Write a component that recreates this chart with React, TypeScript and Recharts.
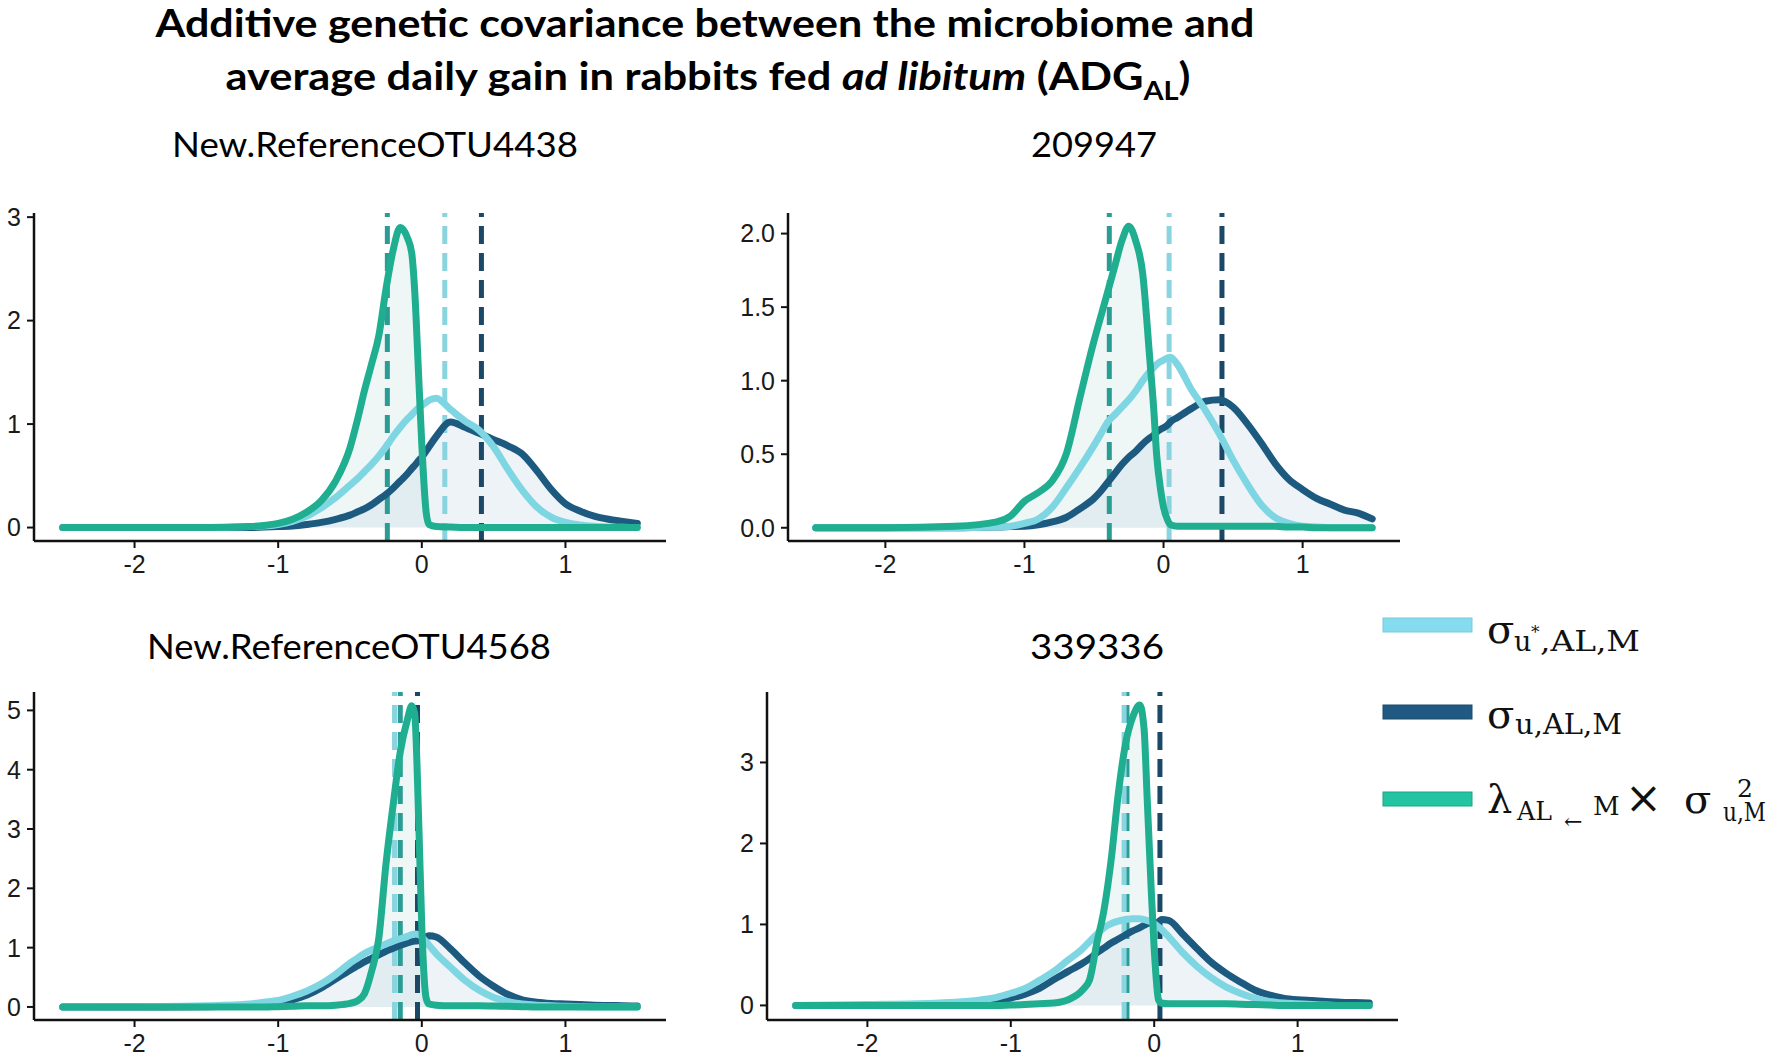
import { Area, ComposedChart, Line, ReferenceLine, XAxis, YAxis } from 'recharts'

// shared density grid (x values)
const X_GRID = [
  -2.5, -2.0, -1.5, -1.2, -1.1, -1.0, -0.9, -0.8, -0.7, -0.6, -0.5, -0.45, -0.4, -0.35, -0.3, -0.25, -0.2, -0.15, -0.1, -0.07,
  -0.05, -0.02, 0, 0.03, 0.05, 0.1, 0.2, 0.3, 0.4, 0.5, 0.6, 0.7, 0.8, 0.9, 1.0, 1.1, 1.2, 1.3, 1.4, 1.5,
]
const X_TICKS = [-2, -1, 0, 1]

// New.ReferenceOTU4438
const P1_LIGHT = [
  0, 0, 0, 0.01, 0.015, 0.03, 0.06, 0.11, 0.19, 0.29, 0.41, 0.47, 0.54, 0.61, 0.69, 0.78, 0.88, 0.97, 1.05, 1.09,
  1.12, 1.16, 1.18, 1.21, 1.23, 1.25, 1.14, 1.03, 0.94, 0.78, 0.56, 0.36, 0.2, 0.1, 0.05, 0.025, 0.012, 0.006, 0.003, 0,
]
const P1_DARK = [
  0, 0, 0, 0, 0.005, 0.01, 0.015, 0.03, 0.05, 0.08, 0.12, 0.15, 0.18, 0.22, 0.27, 0.32, 0.38, 0.45, 0.52, 0.57,
  0.6, 0.65, 0.68, 0.74, 0.78, 0.88, 1.02, 0.97, 0.91, 0.85, 0.79, 0.71, 0.55, 0.37, 0.23, 0.16, 0.11, 0.08, 0.06, 0.04,
]
const P1_GREEN = [
  0, 0, 0, 0.01, 0.02, 0.04, 0.08, 0.15, 0.26, 0.45, 0.77, 1.03, 1.32, 1.58, 1.85, 2.3, 2.68, 2.9, 2.8, 2.65,
  2.3, 1.4, 0.8, 0.15, 0.03, 0.01, 0.005, 0, 0, 0, 0, 0, 0, 0, 0, 0, 0, 0, 0, 0,
]
const P1_MEANS = { green: -0.24, light: 0.16, dark: 0.415 }

// 209947
const P2_LIGHT = [
  0, 0, 0, 0.005, 0.01, 0.03, 0.06, 0.14, 0.27, 0.41, 0.56, 0.64, 0.72, 0.77, 0.82, 0.87, 0.93, 1.0, 1.06, 1.09,
  1.11, 1.13, 1.14, 1.155, 1.16, 1.11, 0.94, 0.8, 0.64, 0.46, 0.3, 0.16, 0.07, 0.03, 0.01, 0.005, 0, 0, 0, 0,
]
const P2_DARK = [
  0, 0, 0, 0.005, 0.008, 0.01, 0.02, 0.04, 0.07, 0.13, 0.2, 0.25, 0.31, 0.37, 0.43, 0.48, 0.52, 0.57, 0.61, 0.63,
  0.65, 0.67, 0.68, 0.7, 0.72, 0.75, 0.81, 0.86, 0.87, 0.82, 0.71, 0.58, 0.44, 0.33, 0.26, 0.2, 0.16, 0.12, 0.1, 0.06,
]
const P2_GREEN = [
  0, 0, 0.01, 0.04, 0.08, 0.18, 0.24, 0.32, 0.5, 0.89, 1.27, 1.44, 1.61, 1.78, 1.95, 2.05, 1.95, 1.73, 1.16, 0.8,
  0.5, 0.25, 0.14, 0.05, 0.02, 0.01, 0.01, 0.01, 0.01, 0.01, 0.01, 0.01, 0.01, 0.005, 0.005, 0, 0, 0, 0, 0,
]
const P2_MEANS = { green: -0.39, light: 0.04, dark: 0.42 }

// New.ReferenceOTU4568
const P3_LIGHT = [
  0, 0.005, 0.02, 0.05, 0.08, 0.11, 0.18, 0.27, 0.39, 0.55, 0.74, 0.82, 0.9, 0.96, 1.01, 1.06, 1.11, 1.15, 1.19, 1.22,
  1.23, 1.22, 1.18, 1.1, 1.04, 0.9, 0.67, 0.45, 0.28, 0.16, 0.09, 0.05, 0.03, 0.02, 0.01, 0.005, 0, 0, 0, 0,
]
const P3_DARK = [
  0, 0, 0.005, 0.02, 0.04, 0.06, 0.12, 0.2, 0.32, 0.47, 0.62, 0.69, 0.76, 0.82, 0.88, 0.94, 0.99, 1.04, 1.08, 1.1,
  1.11, 1.12, 1.14, 1.18, 1.2, 1.18, 0.98, 0.74, 0.52, 0.35, 0.21, 0.12, 0.08, 0.06, 0.05, 0.04, 0.03, 0.025, 0.02, 0.015,
]
const P3_GREEN = [
  0, 0, 0, 0, 0, 0.005, 0.01, 0.02, 0.02, 0.03, 0.06, 0.1, 0.22, 0.6, 1.15, 2.4, 3.4, 4.3, 4.85, 5.08,
  4.95, 3.0, 1.35, 0.15, 0.05, 0.03, 0.02, 0.02, 0.02, 0.015, 0.01, 0.005, 0, 0, 0, 0, 0, 0, 0, 0,
]
const P3_MEANS = { green: -0.15, light: -0.19, dark: -0.03 }

// 339336
const P4_LIGHT = [
  0, 0.01, 0.03, 0.07, 0.1, 0.15, 0.21, 0.31, 0.42, 0.56, 0.7, 0.79, 0.88, 0.96, 1.01, 1.04, 1.06, 1.07, 1.07, 1.06,
  1.05, 1.03, 1.01, 0.97, 0.94, 0.85, 0.65, 0.48, 0.34, 0.23, 0.15, 0.09, 0.05, 0.03, 0.02, 0.01, 0.005, 0, 0, 0,
]
const P4_DARK = [
  0, 0, 0.005, 0.02, 0.05, 0.09, 0.14, 0.21, 0.32, 0.42, 0.52, 0.58, 0.65, 0.71, 0.77, 0.82, 0.87, 0.92, 0.96, 0.99,
  1.01, 1.02, 1.01, 1.03, 1.06, 1.05, 0.88, 0.7, 0.53, 0.4, 0.29, 0.19, 0.13, 0.09, 0.07, 0.06, 0.05, 0.04, 0.035, 0.03,
]
const P4_GREEN = [
  0, 0, 0, 0, 0, 0.005, 0.01, 0.02, 0.03, 0.07, 0.19, 0.32, 0.77, 1.18, 1.8, 2.62, 3.23, 3.56, 3.71, 3.4,
  2.6, 1.4, 0.7, 0.07, 0.03, 0.02, 0.02, 0.02, 0.02, 0.02, 0.015, 0.01, 0.005, 0, 0, 0, 0, 0, 0, 0,
]
const P4_MEANS = { green: -0.19, light: -0.21, dark: 0.04 }

const LIGHT = '#7fd6e3'
const DARK = '#1d5a80'
const GREEN = '#1fae90'

const rows = (light: number[], dark: number[], green: number[]) =>
  X_GRID.map((x, i) => ({ x, light: light[i], dark: dark[i], green: green[i] }))

const tickFont = { fontSize: 25, fontFamily: 'Liberation Sans, Arial, sans-serif', fill: '#1a1a1a' }

type PanelProps = {
  rect: [number, number, number, number]
  yDomain: [number, number]
  yTicks: number[]
  digits: number
  data: Array<{ x: number; light: number; dark: number; green: number }>
  means: { green: number; light: number; dark: number }
}

function Panel({ rect, yDomain, yTicks, digits, data, means }: PanelProps) {
  const [x0, x1, y0, y1] = rect
  const yw = 80
  const xh = 44
  const pad = 10
  const axisStyle = { stroke: '#111', strokeWidth: 2.5 }
  const dash = '18 9'
  return (
    <div style={{ position: 'absolute', left: x0 - yw, top: y0 - pad }}>
      <ComposedChart
        width={x1 - x0 + yw + pad}
        height={y1 - y0 + pad + xh}
        data={data}
        margin={{ top: pad, right: pad, left: 0, bottom: 0 }}
      >
        <XAxis
          type="number"
          dataKey="x"
          domain={[-2.7, 1.7]}
          ticks={X_TICKS}
          allowDataOverflow
          height={xh}
          axisLine={axisStyle}
          tickLine={{ stroke: '#111', strokeWidth: 2 }}
          tickSize={7}
          tickMargin={7}
          tick={tickFont}
        />
        <YAxis
          type="number"
          domain={yDomain}
          ticks={yTicks}
          allowDataOverflow
          width={yw}
          axisLine={axisStyle}
          tickLine={{ stroke: '#111', strokeWidth: 2 }}
          tickSize={7}
          tickMargin={6}
          tick={tickFont}
          tickFormatter={(v: number) => v.toFixed(digits)}
        />
        <Area dataKey="dark" type="monotone" stroke="none" fill="#d3e2e9" fillOpacity={0.4} isAnimationActive={false} />
        <Area dataKey="green" type="monotone" stroke="none" fill="#c8e0e0" fillOpacity={0.3} isAnimationActive={false} />
        <ReferenceLine x={means.green} stroke="#2a9c94" strokeWidth={5} strokeDasharray={dash} />
        <ReferenceLine x={means.light} stroke="#8ad4e0" strokeWidth={5} strokeDasharray={dash} />
        <ReferenceLine x={means.dark} stroke="#1b4866" strokeWidth={5} strokeDasharray={dash} />
        <Line dataKey="dark" type="monotone" stroke={DARK} strokeWidth={7} dot={false} isAnimationActive={false} strokeLinecap="round" />
        <Line dataKey="light" type="monotone" stroke={LIGHT} strokeWidth={7} dot={false} isAnimationActive={false} strokeLinecap="round" />
        <Line dataKey="green" type="monotone" stroke={GREEN} strokeWidth={7} dot={false} isAnimationActive={false} strokeLinecap="round" />
      </ComposedChart>
    </div>
  )
}

export default function App() {
  const serif = 'DejaVu Serif'
  return (
    <div style={{ position: 'absolute', left: 0, top: 0, width: 1770, height: 1058, background: '#fff', overflow: 'hidden' }}>
      <Panel rect={[34, 666, 213, 541]} yDomain={[-0.13, 3.04]} yTicks={[0, 1, 2, 3]} digits={0} data={rows(P1_LIGHT, P1_DARK, P1_GREEN)} means={P1_MEANS} />
      <Panel rect={[788, 1400, 213, 541]} yDomain={[-0.09, 2.14]} yTicks={[0, 0.5, 1, 1.5, 2]} digits={1} data={rows(P2_LIGHT, P2_DARK, P2_GREEN)} means={P2_MEANS} />
      <Panel rect={[34, 666, 692, 1020]} yDomain={[-0.22, 5.31]} yTicks={[0, 1, 2, 3, 4, 5]} digits={0} data={rows(P3_LIGHT, P3_DARK, P3_GREEN)} means={P3_MEANS} />
      <Panel rect={[767, 1398, 692, 1020]} yDomain={[-0.18, 3.87]} yTicks={[0, 1, 2, 3]} digits={0} data={rows(P4_LIGHT, P4_DARK, P4_GREEN)} means={P4_MEANS} />

      <svg width={1770} height={1058} style={{ position: 'absolute', left: 0, top: 0, pointerEvents: 'none' }}>
        <g fontFamily="Lato" fontWeight="bold" fill="#000">
          <text x={705} y={37} fontSize={39} textAnchor="middle" textLength={1099} lengthAdjust="spacingAndGlyphs">
            Additive genetic covariance between the microbiome and
          </text>
          <text x={708} y={90} fontSize={39} textAnchor="middle" textLength={965} lengthAdjust="spacingAndGlyphs">
            average daily gain in rabbits fed <tspan fontStyle="italic">ad libitum</tspan> (ADG
            <tspan fontSize={26} dy={10}>AL</tspan>
            <tspan dy={-10}>)</tspan>
          </text>
        </g>
        <g fontFamily="Lato" fill="#000" fontSize={34} textAnchor="middle">
          <text x={375} y={157} textLength={406} lengthAdjust="spacingAndGlyphs">New.ReferenceOTU4438</text>
          <text x={1094} y={157} textLength={126} lengthAdjust="spacingAndGlyphs">209947</text>
          <text x={349} y={659} textLength={404} lengthAdjust="spacingAndGlyphs">New.ReferenceOTU4568</text>
          <text x={1097} y={659} textLength={134} lengthAdjust="spacingAndGlyphs">339336</text>
        </g>

        <rect x={1383} y={618} width={89} height={14} fill="#85dcee" stroke="#7cc8d8" strokeWidth={1} />
        <rect x={1383} y={705} width={89} height={14} fill="#205a82" stroke="#1a4a6a" strokeWidth={1} />
        <rect x={1383} y={792} width={89} height={14} fill="#22c4a2" stroke="#1aa588" strokeWidth={1} />

        <g fontFamily={serif} fill="#111">
          <text x={1487} y={643} fontSize={40}>σ</text>
          <text x={1514} y={651} fontSize={27}>u</text>
          <text x={1531} y={638} fontSize={17}>*</text>
          <text x={1540} y={651} fontSize={27} textLength={100} lengthAdjust="spacingAndGlyphs">,AL,M</text>

          <text x={1487} y={728} fontSize={40}>σ</text>
          <text x={1515} y={734} fontSize={27} textLength={107} lengthAdjust="spacingAndGlyphs">u,AL,M</text>

          <text x={1487} y={813} fontSize={40}>λ</text>
          <text x={1517} y={820} fontSize={26} textLength={35} lengthAdjust="spacingAndGlyphs">AL</text>
          <text x={1564} y={829} fontSize={22}>←</text>
          <text x={1593} y={815} fontSize={26}>M</text>
          <text x={1625} y={813} fontSize={44}>×</text>
          <text x={1684} y={813} fontSize={40}>σ</text>
          <text x={1737} y={797} fontSize={25}>2</text>
          <text x={1723} y={821} fontSize={26} textLength={43} lengthAdjust="spacingAndGlyphs">u,M</text>
        </g>
      </svg>
    </div>
  )
}
